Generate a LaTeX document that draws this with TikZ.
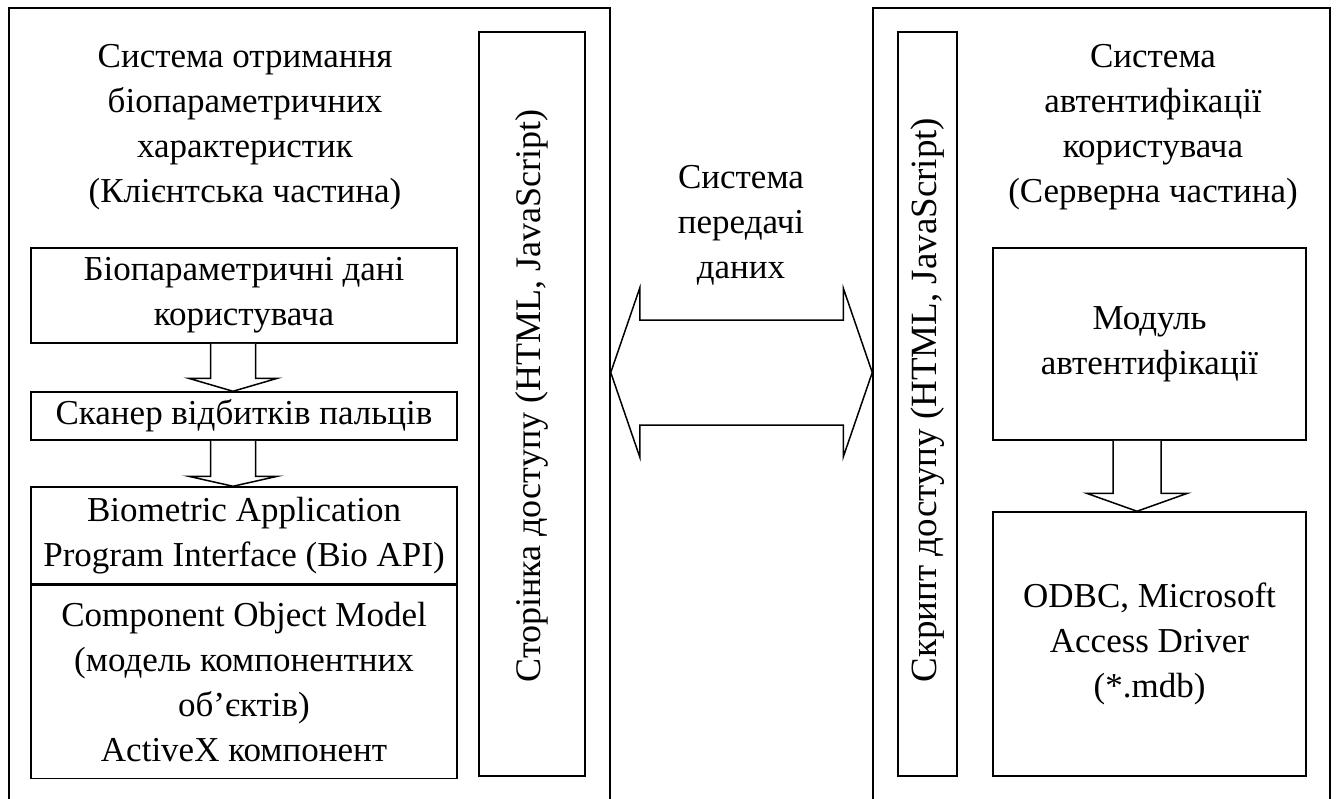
\documentclass[tikz,border=0pt]{standalone}
\usepackage{fontspec}
\setmainfont{Liberation Serif}
\usetikzlibrary{positioning,calc}

% down block arrow: from node, to node, x offset, half shaft, half head, head length
\newcommand{\blkdown}[6]{%
  \draw[blk] ($(#1.south)+(#3-#4,0)$) -- ($(#2.north)+(#3-#4,-#6)$)
    -- ($(#2.north)+(#3-#5,-#6)$) -- ($(#2.north)+(#3,0)$)
    -- ($(#2.north)+(#3+#5,-#6)$) -- ($(#2.north)+(#3+#4,-#6)$)
    -- ($(#1.south)+(#3+#4,0)$);}

\begin{document}
\begin{tikzpicture}[x=1pt,y=-1pt,
  every node/.style={font=\fontsize{35}{45}\selectfont,align=center,inner sep=0pt},
  frame/.style={draw,line width=1.5pt},
  strip/.style={frame,rotate=90,minimum width=744},
  striptext/.style={rotate=90,font=\fontsize{#1}{45}\selectfont},
  blk/.style={draw,line width=1.5pt,fill=white,line join=miter}]
\useasboundingbox (0,0) rectangle (1338,798);

% outer parts
\node[frame,minimum width=601,minimum height=797] (client) at (309.5,406.5) {};
\node[frame,minimum width=457,minimum height=797] (server) at (1101.5,406.5) {};

% client side
\node (cltitle) at (245,127) {Система отримання\\біопараметричних\\характеристик\\(Клієнтська частина)};
\node[frame,minimum width=426,minimum height=95] (biodata) at (244,295.5) {Біопараметричні дані\\користувача};
\node[frame,minimum width=426,minimum height=48] (scanner) at (244,416) {Сканер відбитків пальців};
\node[frame,minimum width=426,minimum height=97] (bioapi) at (244,535.5) {Biometric Application\\Program Interface (Bio API)};
\node[frame,minimum width=426,minimum height=193,below=0pt of bioapi] (com) {Component Object Model\\(модель компонентних\\об’єктів)\\ActiveX компонент};
\node[strip,minimum height=106] (page) at (532,404) {};
\node[striptext=36] (pagetext) at ($(page.center)+(0,-8)$) {Сторінка доступу (HTML, JavaScript)};

\blkdown{biodata}{scanner}{-11}{22.5}{44.5}{13}
\blkdown{scanner}{bioapi}{-11}{22.5}{44.5}{10}

% transfer
\coordinate (mid) at (741,372.5);
\node (transfer) at (741,225) {Система\\передачі\\даних};
\draw[blk] (client.east |- mid) -- ++(29,-84.5) -- ++(0,32)
  -- ($(server.west |- mid)+(-29,-52.5)$) -- ++(0,-32) -- (server.west |- mid)
  -- ++(-29,84.5) -- ++(0,-32) -- ($(client.east |- mid)+(29,52.5)$) -- ++(0,32) -- cycle;

% server side
\node[strip,minimum height=59] (script) at (927.5,404) {};
\node[striptext=37] (scripttext) at ($(script.center)+(0,-4)$) {Скрипт доступу (HTML, JavaScript)};
\node (svtitle) at (1153,127) {Система\\автентифікації\\користувача\\(Серверна частина)};
\node[frame,minimum width=313,minimum height=192] (authmod) at (1149.5,344) {Модуль\\автентифікації};
\node[frame,minimum width=313,minimum height=264] (odbc) at (1149.5,644) {ODBC, Microsoft\\Access Driver\\(*.mdb)};

\blkdown{authmod}{odbc}{-12.5}{24}{50.5}{18}
\end{tikzpicture}
\end{document}
